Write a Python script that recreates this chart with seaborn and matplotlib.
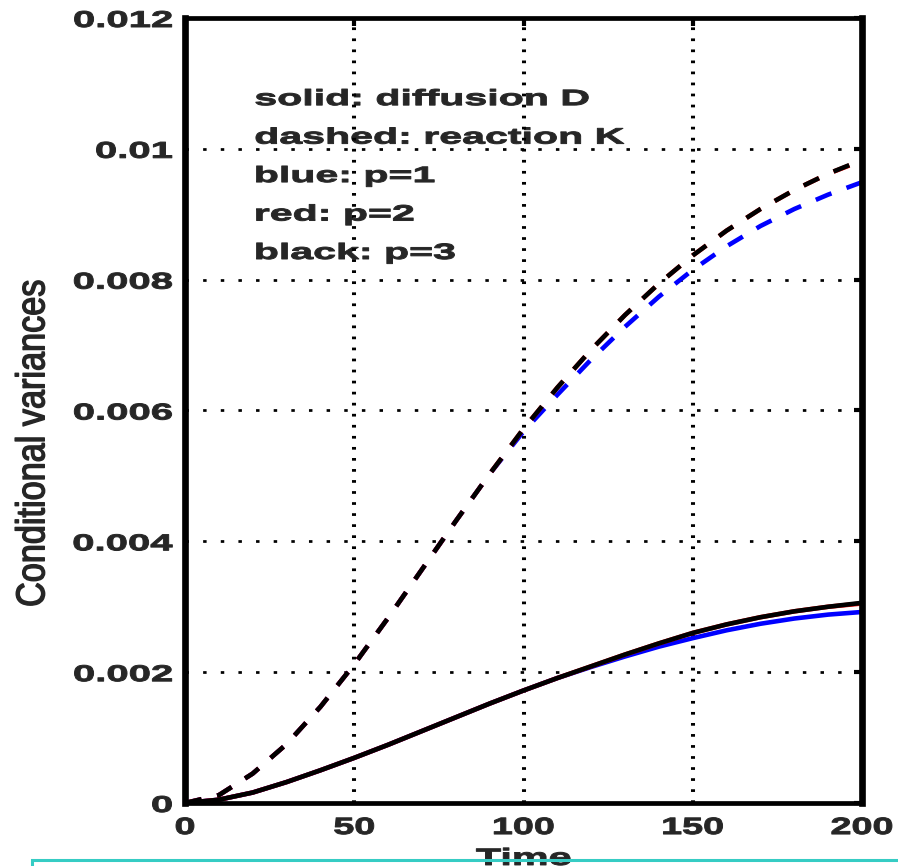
import matplotlib
matplotlib.use('Agg')
import pandas as pd
import matplotlib.pyplot as plt
import seaborn as sns
from matplotlib.patheffects import AbstractPathEffect
from matplotlib.transforms import Affine2D
from matplotlib.patches import Rectangle

# time axis
time = [0, 10, 20, 30, 40, 50, 60, 70, 80, 90, 100,
        110, 120, 130, 140, 150, 160, 170, 180, 190, 200]

# solid: diffusion D
diff_p1 = [0, 0.00005, 0.00016, 0.00032, 0.0005, 0.00069, 0.00089, 0.0011, 0.00131, 0.00152, 0.00172,
           0.00191, 0.00208, 0.00224, 0.00239, 0.00252, 0.00264, 0.00274, 0.00282, 0.00288, 0.00292]
diff_p2 = [0, 0.00005, 0.00016, 0.00032, 0.0005, 0.00069, 0.00089, 0.0011, 0.00131, 0.00152, 0.00172,
           0.00191, 0.00209, 0.00227, 0.00244, 0.0026, 0.00273, 0.00284, 0.00293, 0.003, 0.00305]
diff_p3 = [0, 0.00005, 0.00016, 0.00032, 0.0005, 0.00069, 0.00089, 0.0011, 0.00131, 0.00152, 0.00172,
           0.00191, 0.00209, 0.00227, 0.00244, 0.0026, 0.00273, 0.00284, 0.00293, 0.003, 0.00306]

# dashed: reaction K
react_p1 = [0, 0.00012, 0.00045, 0.0009, 0.00147, 0.00212, 0.00283, 0.00357, 0.00431, 0.00503, 0.00568,
            0.00624, 0.00678, 0.00728, 0.00774, 0.00815, 0.00851, 0.00882, 0.00908, 0.0093, 0.00949]
react_p2 = [0, 0.00012, 0.00045, 0.0009, 0.00147, 0.00212, 0.00283, 0.00357, 0.00431, 0.00503, 0.00572,
            0.00635, 0.00693, 0.00746, 0.00794, 0.00837, 0.00875, 0.00908, 0.00937, 0.00962, 0.00982]
react_p3 = [0, 0.00012, 0.00045, 0.0009, 0.00147, 0.00212, 0.00283, 0.00357, 0.00431, 0.00503, 0.00572,
            0.00635, 0.00693, 0.00746, 0.00794, 0.00837, 0.00875, 0.00908, 0.00937, 0.00962, 0.00983]

x_ticks = [0, 50, 100, 150, 200]
y_ticks = [0, 0.002, 0.004, 0.006, 0.008, 0.01, 0.012]
y_labels = ['0', '0.002', '0.004', '0.006', '0.008', '0.01', '0.012']
notes = ['solid: diffusion D', 'dashed: reaction K', 'blue: p=1', 'red: p=2', 'black: p=3']


class Widen(AbstractPathEffect):
    '''stretch glyphs sideways (the original export is squashed vertically)
    and thicken them a little with an outline'''
    def __init__(self, sx, align=0.5, lw=0.0):
        super().__init__()
        self.sx = sx
        self.align = align
        self.lw = lw

    def draw_path(self, renderer, gc, tpath, affine, rgbFace=None):
        ext = tpath.get_extents()
        cx = ext.x0 + self.align * ext.width
        stretch = Affine2D().translate(-cx, 0).scale(self.sx, 1).translate(cx, 0)
        gc0 = renderer.new_gc()
        gc0.copy_properties(gc)
        if self.lw and rgbFace is not None:
            gc0.set_linewidth(self.lw)
            gc0.set_foreground(rgbFace)
            gc0.set_joinstyle('round')
        renderer.draw_path(gc0, tpath, stretch + affine, rgbFace)
        gc0.restore()


sns.set_style('white')
plt.rcParams['font.family'] = ['Liberation Sans', 'DejaVu Sans']
plt.rcParams['lines.scale_dashes'] = False

fig = plt.figure(figsize=(8.98, 8.66), dpi=100)
ax = fig.add_axes([185 / 898, 63 / 866, 677 / 898, 785 / 866])

dash = (0, (12.2, 11.5))
series = [
    (diff_p1, 'blue', '-'), (react_p1, 'blue', dash),
    (diff_p2, 'red', '-'), (react_p2, 'red', dash),
    (diff_p3, 'black', '-'), (react_p3, 'black', dash),
]
for vals, col, ls in series:
    df = pd.DataFrame({'Time': time, 'var': vals})
    sns.lineplot(data=df, x='Time', y='var', color=col, linestyle=ls,
                 linewidth=3.3, ax=ax, zorder=2)

ax.set_xlim(0, 200)
ax.set_ylim(0, 0.012)
ax.set_axisbelow('line')

# dotted grid, dots differ per direction in the reference
ax.xaxis.grid(True, color='black', linewidth=2.9, linestyle=(0, (1.95, 6.0)))
ax.yaxis.grid(True, color='black', linewidth=1.95, linestyle=(0, (2.5, 10.2)))

for side in ['left', 'right']:
    ax.spines[side].set_linewidth(4.8)
for side in ['top', 'bottom']:
    ax.spines[side].set_linewidth(3.4)
for sp in ax.spines.values():
    sp.set_color('black')
    sp.set_visible(True)

ax.tick_params(which='both', direction='in', top=True, right=True,
               length=6, width=3, color='black')
ax.tick_params(axis='x', pad=9.4)
ax.tick_params(axis='y', pad=9.0)

ax.set_xticks(x_ticks)
xl = ax.set_xticklabels([str(t) for t in x_ticks], fontsize=17, fontweight='bold')
for t in xl:
    t.set_path_effects([Widen(1.6, 0.5, 0.7)])
ax.set_yticks(y_ticks)
yl = ax.set_yticklabels(y_labels, fontsize=16.5, fontweight='bold')
for t in yl:
    t.set_path_effects([Widen(1.75, 1.0, 0.7)])

ax.set_xlabel('Time', fontsize=17, fontweight='bold',
              path_effects=[Widen(1.75, 0.5, 0.7)])
ax.xaxis.set_label_coords(0.5, -0.056)
ax.set_ylabel('Conditional variances', fontsize=29, fontweight='normal',
              path_effects=[Widen(0.85, 0.5, 1.0)])
ax.yaxis.set_label_coords(-0.196, 0.4586)

for i, line in enumerate(notes):
    ax.text(0.1034, 0.889 - i * 0.049, line, transform=ax.transAxes,
            fontsize=16, fontweight='bold', ha='left', va='baseline',
            zorder=1, path_effects=[Widen(1.85, 0.0, 0.7)])

# turquoise frame at the bottom edge
fig.add_artist(Rectangle((32 / 898, -0.1), 1.2, 6 / 866 + 0.1,
                         transform=fig.transFigure, fill=False,
                         edgecolor='#36ccc4', linewidth=2.2, zorder=10,
                         clip_on=False))

plt.savefig('out.png', dpi=100)
